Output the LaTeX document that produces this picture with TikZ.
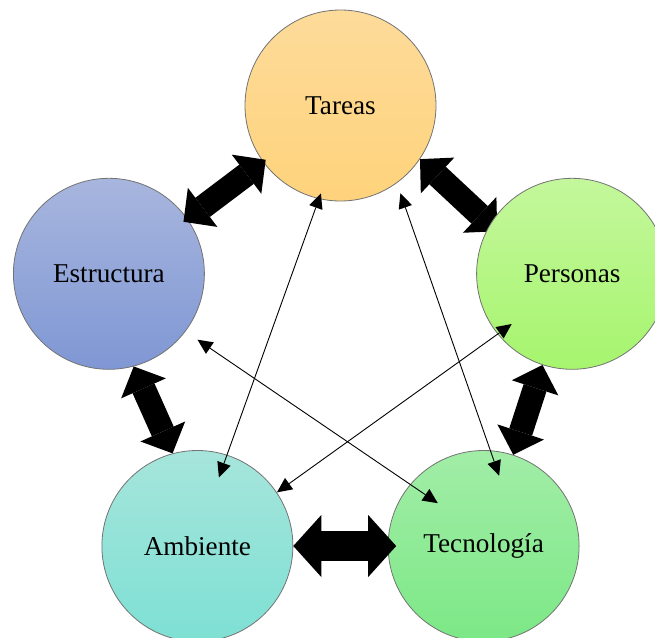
\documentclass[tikz,border=0pt]{standalone}
\usepackage{fontspec}
\setmainfont{Liberation Serif}
\usetikzlibrary{arrows.meta}

% layers: lower circles, block arrows, then the rest
\pgfdeclarelayer{bg}
\pgfdeclarelayer{mid}
\pgfsetlayers{bg,mid,main}

\definecolor{tareasTop}{RGB}{253,219,154}
\definecolor{tareasBot}{RGB}{255,211,124}
\definecolor{estrTop}{RGB}{168,182,222}
\definecolor{estrBot}{RGB}{127,151,212}
\definecolor{persTop}{RGB}{196,247,156}
\definecolor{persBot}{RGB}{166,245,110}
\definecolor{ambTop}{RGB}{166,229,219}
\definecolor{ambBot}{RGB}{126,224,212}
\definecolor{tecTop}{RGB}{162,237,167}
\definecolor{tecBot}{RGB}{124,232,134}
\definecolor{rim}{RGB}{115,115,115}

\begin{document}
\begin{tikzpicture}[x=1pt,y=-1pt,
  disc/.style 2 args={circle, minimum size=191pt, inner sep=0pt,
    draw=rim, line width=0.8pt, top color=#1, bottom color=#2,
    font=\fontsize{27.2}{31}\selectfont},
  bigarrow/.style={line width=24pt, draw=black,
    arrows={Triangle[length=24pt,width=49pt,line width=0pt]-Triangle[length=24pt,width=49pt,line width=0pt]}},
  widearrow/.style={line width=30pt, draw=black,
    arrows={Triangle[length=28pt,width=62pt,line width=0pt]-Triangle[length=28pt,width=62pt,line width=0pt]}},
  thinarrow/.style={line width=0.9pt, draw=black,
    arrows={Triangle[length=15pt,width=14pt,line width=0pt]-Triangle[length=15pt,width=14pt,line width=0pt]}}]

\useasboundingbox (0,0) rectangle (655,637);

\begin{pgfonlayer}{bg}
  \node[disc={tareasTop}{tareasBot}] (T)  at (340.5,105.5) {Tareas};
  \node[disc={estrTop}{estrBot}]     (E)  at (108.9,273.8) {Estructura};
  \node[disc={ambTop}{ambBot}]       (A)  at (197.4,546)   {Ambiente};
  \node[disc={tecTop}{tecBot}]       (Tc) at (483.6,546)   {Tecnología};
\end{pgfonlayer}

\node[disc={persTop}{persBot}] (P) at (572.1,273.8) {Personas};

% block double arrows between neighbours
\begin{pgfonlayer}{mid}
  \draw[bigarrow, shorten <=-5pt, shorten >=-3.5pt] (E.35) -- (T.216);
  \draw[bigarrow, shorten >=-10pt] (T.-34) -- (P.149);
  \draw[bigarrow] (E.-75) -- (A.105);
  \draw[bigarrow] (P.-108) -- (Tc.72);
  \draw[widearrow, shorten >=-8.5pt] (A) -- (Tc);
\end{pgfonlayer}

% thin double arrows across the pentagon
\draw[thinarrow, shorten <=-5.9pt, shorten >=-24.1pt] (T.-103) -- (A.72);
\draw[thinarrow, shorten <=10.7pt, shorten >=-26.9pt] (T.-54) -- (Tc.86);
\draw[thinarrow, shorten <=14.5pt, shorten >=-33.5pt] (E.-37) -- (Tc.140);
\draw[thinarrow, shorten <=-17.4pt] (P.219) -- (A.34);

\end{tikzpicture}
\end{document}
